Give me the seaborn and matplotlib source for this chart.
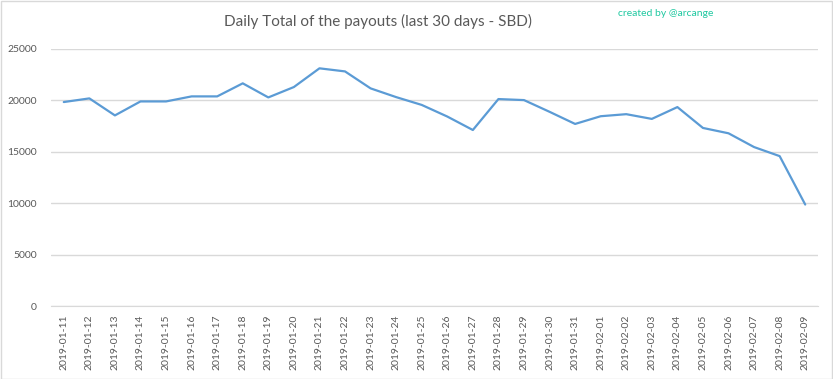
import pandas as pd
import seaborn as sns
import matplotlib.pyplot as plt
from matplotlib.patches import Rectangle

# Daily payout totals (SBD)
dates = ["2019-01-11", "2019-01-12", "2019-01-13", "2019-01-14", "2019-01-15",
         "2019-01-16", "2019-01-17", "2019-01-18", "2019-01-19", "2019-01-20",
         "2019-01-21", "2019-01-22", "2019-01-23", "2019-01-24", "2019-01-25",
         "2019-01-26", "2019-01-27", "2019-01-28", "2019-01-29", "2019-01-30",
         "2019-01-31", "2019-02-01", "2019-02-02", "2019-02-03", "2019-02-04",
         "2019-02-05", "2019-02-06", "2019-02-07", "2019-02-08", "2019-02-09"]
payouts = [19840, 20195, 18540, 19900, 19900, 20390, 20390, 21660, 20290, 21300,
           23120, 22820, 21170, 20320, 19560, 18430, 17120, 20130, 20030, 18890,
           17710, 18460, 18660, 18200, 19350, 17320, 16800, 15460, 14580, 9870]
y_ticks = [0, 5000, 10000, 15000, 20000, 25000]

df = pd.DataFrame({"date": dates, "payout": payouts})

sns.set_style("white")
plt.rcParams['font.family'] = ['Lato', 'DejaVu Sans']

fig = plt.figure(figsize=(8.33, 3.79), dpi=100)
ax = fig.add_axes([51 / 833, 1 - 306 / 379, 767 / 833, 257 / 379])

sns.lineplot(data=df, x="date", y="payout", ax=ax, color="#5b9bd5",
             linewidth=1.6, sort=False)

ax.set_xlim(-0.5, len(dates) - 0.5)
ax.set_ylim(0, 25000)
ax.set_yticks(y_ticks)
ax.set_yticklabels([str(v) for v in y_ticks])
ax.yaxis.grid(True, color="#d9d9d9", linewidth=1)
ax.set_axisbelow(True)
for side in ["top", "right", "left"]:
    ax.spines[side].set_visible(False)
ax.spines["bottom"].set_color("#d9d9d9")
ax.tick_params(axis="x", labelrotation=90, labelsize=7.5, colors="#595959",
               length=0, pad=6)
ax.tick_params(axis="y", labelsize=7.5, colors="#595959", length=0, pad=10)
ax.set_xlabel("")
ax.set_ylabel("")

fig.text(378 / 833, 1 - 21 / 379, "Daily Total of the payouts (last 30 days - SBD)",
         ha="center", va="center", fontsize=11, color="#595959")
fig.text(713 / 833, 1 - 14 / 379, "created by @arcange", ha="right",
         va="center", fontsize=7.5, color="#1fc8a0")

fig.patches.append(Rectangle((0.5 / 833, 0.5 / 379), 1 - 1.5 / 833, 1 - 1.5 / 379,
                             transform=fig.transFigure, fill=False,
                             edgecolor="#d9d9d9", linewidth=1))

plt.savefig("out.png", dpi=100)
